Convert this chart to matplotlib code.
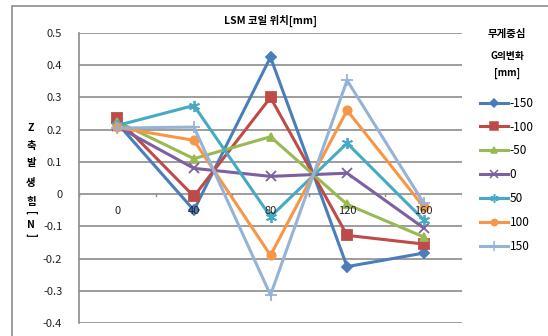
import matplotlib.pyplot as plt
from matplotlib.patches import Rectangle
from matplotlib.lines import Line2D

plt.rcParams["font.family"] = ["Noto Sans CJK KR", "DejaVu Sans"]

positions = ["0", "40", "80", "120", "160"]
series_names = ["-150", "-100", "-50", "0", "50", "100", "150"]

force_m150 = [0.22, -0.05, 0.425, -0.225, -0.183]
force_m100 = [0.235, -0.007, 0.30, -0.128, -0.155]
force_m50 = [0.225, 0.11, 0.178, -0.032, -0.133]
force_0 = [0.21, 0.08, 0.055, 0.065, -0.105]
force_50 = [0.213, 0.275, -0.07, 0.158, -0.08]
force_100 = [0.207, 0.167, -0.19, 0.26, -0.04]
force_150 = [0.205, 0.208, -0.313, 0.353, -0.028]

series = [force_m150, force_m100, force_m50, force_0, force_50, force_100, force_150]
colors = ["#4A7EBB", "#BE4B48", "#98B954", "#7D60A0", "#46AAC5", "#F79646", "#95B3D7"]
markers = ["D", "s", "^", "x", (6, 2, 0), "o", "+"]
msizes = [5, 7, 6, 7, 8, 6, 9]

W, H = 548, 336
fig = plt.figure(figsize=(W / 100, H / 100), dpi=100)

# outer chart frame
fig.patches.append(Rectangle((12 / W, -0.1), 1.2, (H - 6) / H + 0.1,
                             transform=fig.transFigure, fill=False,
                             edgecolor="#8c8c8c", lw=1.2))

ax = fig.add_axes([79 / W, 13 / H, 383 / W, 290 / H])
x = list(range(len(positions)))

for vals, name, c, m, ms in zip(series, series_names, colors, markers, msizes):
    ax.plot(x, vals, color=c, lw=2.2, marker=m, ms=ms, mew=1.3,
            mec=c, mfc=c, label=name, zorder=3)

ax.set_xlim(-0.5, len(positions) - 0.5)
ax.set_ylim(-0.4, 0.5)
ax.set_yticks([i / 10 for i in range(-4, 6)])
ax.set_yticklabels(["-0.4", "-0.3", "-0.2", "-0.1", "0", "0.1", "0.2", "0.3", "0.4", "0.5"])
ax.yaxis.grid(True, color="#8c8c8c", lw=1.2)
ax.set_axisbelow(True)
ax.tick_params(axis="y", length=0, labelsize=8, colors="#222222", pad=12)
ax.set_xticks([])
for s in ["top", "right", "bottom"]:
    ax.spines[s].set_visible(False)
ax.spines["left"].set_color("#8c8c8c")
ax.spines["left"].set_linewidth(1.2)

# category axis drawn along zero
for i in range(len(positions) + 1):
    ax.plot([i - 0.5, i - 0.5], [0, -0.006], color="#8c8c8c", lw=1, zorder=2)
for i, lab in enumerate(positions):
    ax.text(i, -0.052, lab, ha="center", va="center", fontsize=8, color="#222222", zorder=4)

fig.text(270 / W, 1 - 21 / H, "LSM 코일 위치[mm]", ha="center", va="center",
         fontsize=7.5, fontweight="bold")

# stacked vertical y label
ylab = ["Z", "축", "발", "생", "힘", "[", "N", "]"]
ys = [128, 146, 163, 183, 202, 213, 225, 235]
for ch, yy in zip(ylab, ys):
    rot = -90 if ch in "[]" else 0
    fig.text(31 / W, 1 - yy / H, ch, ha="center", va="center", fontsize=7.5,
             fontweight="bold", rotation=rot)

fig.text(507 / W, 1 - 34 / H, "무게중심", ha="center", va="center", fontsize=7.5, fontweight="bold")
fig.text(507 / W, 1 - 56 / H, "G의변화", ha="center", va="center", fontsize=7, fontweight="bold")
fig.text(507 / W, 1 - 73 / H, "[mm]", ha="center", va="center", fontsize=7, fontweight="bold")

handles = [Line2D([], [], color=c, lw=2.2, marker=m, ms=ms * 0.75, mew=1.1, mec=c, mfc=c)
           for c, m, ms in zip(colors, markers, msizes)]
fig.legend(handles, series_names, loc="upper left", bbox_to_anchor=(475 / W, 1 - 92 / H),
           frameon=False, fontsize=8.5, handlelength=2.4, handletextpad=0.15,
           labelspacing=0.92, borderaxespad=0)

fig.savefig("out.png", dpi=100)
